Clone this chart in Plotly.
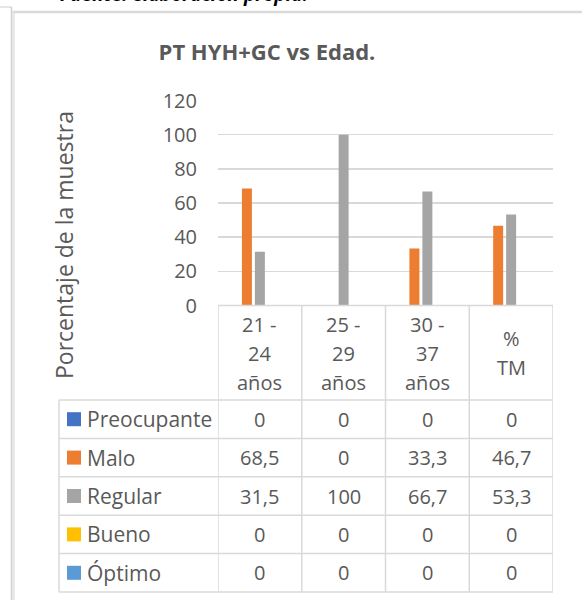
import plotly.graph_objects as go

W, H = 582, 600

# ---- data ----
categories = ["21 -<br>24<br>años", "25 -<br>29<br>años", "30 -<br>37<br>años", "%<br>TM"]
series_names = ["Preocupante", "Malo", "Regular", "Bueno", "Óptimo"]
preocupante = [0, 0, 0, 0]
malo = [68.5, 0, 33.3, 46.7]
regular = [31.5, 100, 66.7, 53.3]
bueno = [0, 0, 0, 0]
optimo = [0, 0, 0, 0]
y_ticks = [0, 20, 40, 60, 80, 100, 120]
title_text = "PT HYH+GC vs Edad."
y_title = "Porcentaje de la muestra"
caption = "Fuente: elaboración propia."

series_values = [preocupante, malo, regular, bueno, optimo]
colors = ["#4472C4", "#ED7D31", "#A5A5A5", "#FFC000", "#5B9BD5"]

TEXT = "#595959"
GRID = "#D9D9D9"
FONT = "Open Sans"


def px(x):
    return x / W


def py(y):
    return 1 - y / H


PLOT_L, PLOT_R, PLOT_T, PLOT_B = 218, 553, 100.5, 305.5
LEG_L = 59
HEAD_MID = 353
LINE_SP = 29
ROW_Y = [400, 438.4, 476.8, 515.2, 553.6, 592]

fig = go.Figure()
for name, vals, col in zip(series_names, series_values, colors):
    fig.add_bar(x=categories, y=vals, name=name,
                marker=dict(color=col, line=dict(width=0)))

fig.update_layout(
    width=W, height=H,
    margin=dict(l=0, r=0, t=0, b=0, pad=0),
    paper_bgcolor="white", plot_bgcolor="white",
    barmode="group", bargap=0.226, bargroupgap=0.23,
    showlegend=False, hovermode=False,
    font=dict(family=FONT, color=TEXT, size=20),
    title=dict(text="<b>" + title_text + "</b>", x=px(267), y=py(52),
               xref="paper", yref="paper",
               xanchor="center", yanchor="middle", automargin=False,
               font=dict(family=FONT, size=22, color=TEXT)),
)
fig.update_xaxes(type="category", domain=[px(PLOT_L), px(PLOT_R)], range=[-0.5, 3.5],
                 showticklabels=False, showgrid=False, zeroline=False, showline=False,
                 automargin=False)
fig.update_yaxes(domain=[py(PLOT_B), py(PLOT_T)], range=[0, 120], tickvals=y_ticks,
                 showgrid=True, gridcolor=GRID, gridwidth=1.5, zeroline=False,
                 showline=False, ticks="", ticklabelstandoff=20, automargin=False,
                 tickfont=dict(family=FONT, size=20, color=TEXT))

shapes = []
annotations = []

# y-axis title
annotations.append(dict(text=y_title, xref="paper", yref="paper", x=px(64), y=py(245),
                        xanchor="center", yanchor="middle", textangle=-90, showarrow=False,
                        font=dict(family=FONT, size=23, color=TEXT)))

# cut-off caption at top
annotations.append(dict(text="<b><i>" + caption + "</i></b>", xref="paper", yref="paper",
                        x=px(58), y=py(-6), xanchor="left", yanchor="middle", showarrow=False,
                        font=dict(family=FONT, size=19, color="#000000")))

line = dict(color=GRID, width=1.5)
# table horizontal lines
shapes.append(dict(type="line", xref="x", yref="paper", x0=-0.5, x1=3.5,
                   y0=py(PLOT_B), y1=py(PLOT_B), line=line))
for yy in ROW_Y:
    shapes.append(dict(type="line", xref="paper", yref="paper", x0=px(LEG_L), x1=px(PLOT_R),
                       y0=py(yy), y1=py(yy), line=line))
# vertical lines
for i in range(len(categories) + 1):
    shapes.append(dict(type="line", xref="x", yref="paper", x0=i - 0.5, x1=i - 0.5,
                       y0=py(PLOT_B), y1=py(ROW_Y[-1]), line=line))
shapes.append(dict(type="line", xref="paper", yref="paper", x0=px(LEG_L), x1=px(LEG_L),
                   y0=py(ROW_Y[0]), y1=py(ROW_Y[-1]), line=line))

# header labels
for cat in categories:
    parts = cat.split("<br>")
    n = len(parts)
    for k, p in enumerate(parts):
        yc = HEAD_MID + (k - (n - 1) / 2) * LINE_SP
        annotations.append(dict(text=p, xref="x", yref="paper", x=cat, y=py(yc),
                                xanchor="center", yanchor="middle", showarrow=False,
                                font=dict(family=FONT, size=20, color=TEXT)))

# rows
for r, (name, vals, col) in enumerate(zip(series_names, series_values, colors)):
    yc = (ROW_Y[r] + ROW_Y[r + 1]) / 2
    shapes.append(dict(type="rect", xref="paper", yref="paper", x0=px(67), x1=px(81),
                       y0=py(yc - 7), y1=py(yc + 7), fillcolor=col, line=dict(width=0)))
    annotations.append(dict(text=name, xref="paper", yref="paper", x=px(85), y=py(yc),
                            xanchor="left", yanchor="middle", showarrow=False,
                            font=dict(family=FONT, size=21, color=TEXT)))
    for cat, v in zip(categories, vals):
        annotations.append(dict(text=f"{v:g}".replace(".", ","), xref="x", yref="paper",
                                x=cat, y=py(yc), xanchor="center", yanchor="middle",
                                showarrow=False, font=dict(family=FONT, size=20, color=TEXT)))

# outer frame
shapes.append(dict(type="line", xref="paper", yref="paper", x0=px(0), x1=px(12),
                   y0=py(7), y1=py(7), line=dict(color="#DDDDDD", width=1.5)))
shapes.append(dict(type="line", xref="paper", yref="paper", x0=px(11.5), x1=px(11.5),
                   y0=py(7), y1=py(600), line=dict(color="#D0D0D0", width=1.5)))
shapes.append(dict(type="line", xref="paper", yref="paper", x0=px(13.5), x1=px(13.5),
                   y0=py(11), y1=py(600), line=dict(color="#E6E6E6", width=2.5)))
shapes.append(dict(type="line", xref="paper", yref="paper", x0=px(13), x1=px(582),
                   y0=py(12), y1=py(12), line=dict(color="#DADADA", width=2.5)))

fig.update_layout(shapes=shapes, annotations=annotations)
fig.write_html("out.html", config={"displayModeBar": False, "staticPlot": True},
               post_script="document.body.style.margin='0px';")
